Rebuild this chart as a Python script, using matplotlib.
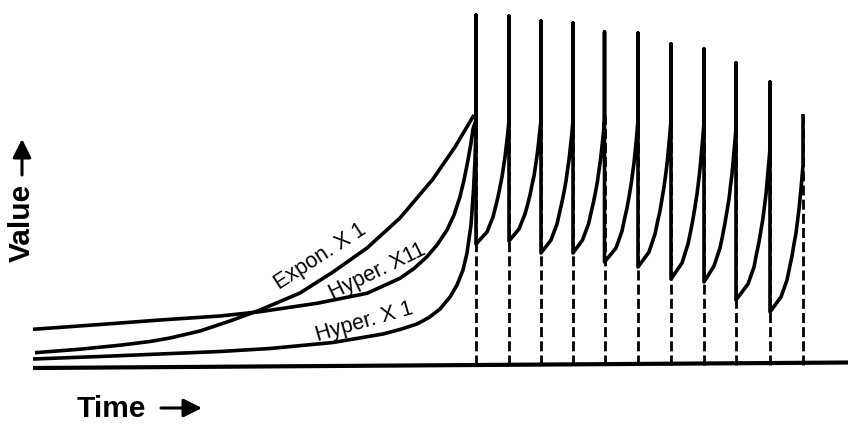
import matplotlib
matplotlib.use("Agg")
import matplotlib.pyplot as plt

plt.rcParams['font.family'] = ['Liberation Sans', 'DejaVu Sans']

# times of the 11 rewards (dashed lines)
reward_t = [476, 509, 541, 573, 604.5, 638, 671, 704, 736, 770, 803]
# height of the spike at each reward
spike_top = [350, 349, 344, 342, 333, 332, 321, 316, 302, 283, 251]
# value right after each reward, then the rise towards the next one
# (time before the next reward for each point after the trough)
rise_lead = [22, 16, 13.5, 11, 9, 7, 5.5, 4, 3, 2, 1.3, 0.7, 0]
seg_values = [
    [121, 133, 148, 158, 168, 178, 188, 198, 208, 217, 225, 231, 238, 245],
    [124, 136, 151, 160, 170, 180, 189, 199, 209, 217, 226, 232, 238, 245],
    [112, 125, 141, 152, 163, 173, 184, 195, 205, 214, 224, 230, 237, 245],
    [112, 125, 141, 152, 163, 173, 184, 195, 205, 214, 224, 230, 237, 245],
    [103, 117, 134, 146, 157, 168, 180, 191, 202, 212, 222, 229, 237, 245],
    [98, 113, 131, 143, 154, 166, 178, 189, 201, 211, 222, 229, 236, 245],
    [86, 102, 121, 133, 146, 158, 171, 183, 196, 207, 218, 226, 234, 243],
    [83, 99, 117, 129, 142, 154, 166, 179, 191, 202, 212, 220, 228, 237],
    [65, 81, 98, 111, 123, 135, 147, 159, 171, 182, 193, 200, 208, 217],
    [53, 68, 85, 97, 109, 121, 132, 144, 156, 166, 177, 184, 191, 200],
]
dash_top = 248

# curves before the first reward
expon_t = [35, 80, 120, 150, 170, 200, 230, 260, 300, 333, 367, 400, 433, 455, 474]
expon_v = [12.3, 15.8, 19.8, 23.5, 27, 34, 44, 55, 72, 93, 117, 147, 186, 218, 250]

x11_t = [33, 100, 160, 220, 260, 317, 367, 400, 414, 427, 437, 447, 454, 460,
         464, 468, 471, 473, 476]
x11_v = [35.7, 40.5, 45, 49, 53.3, 61.7, 71.7, 86.7, 96.5, 108.3, 120, 135, 150,
         168.3, 185, 205, 222, 236, 245]

x1_t = [33, 100, 160, 220, 270, 333, 383, 400, 417, 429, 440, 450, 457, 463, 467,
        471, 473.5, 475, 476]
x1_v = [6, 8.5, 11, 13.5, 16.5, 22.5, 31, 35.5, 41, 47.5, 56, 68, 80, 95, 112,
        140, 175, 205, 240]

baseline_t = [33, 848]
baseline_v = [-3, 2.5]

labels = ["Expon. X 1", "Hyper. X11", "Hyper. X 1"]
label_t = [320, 377, 364]
label_v = [108, 93, 43]
label_rot = [33, 26, 16]


def main():
    fig = plt.figure(figsize=(8.48, 4.24), dpi=100)
    ax = fig.add_axes([0, 0, 1, 1])
    ax.set_xlim(0, 848)
    ax.set_ylim(-59, 365)
    ax.axis('off')

    # dashed reward markers
    for t in reward_t:
        ax.plot([t, t], [0, dash_top], color='black', lw=2.0,
                linestyle=(0, (3.6, 1.5)), solid_capstyle='butt')

    ax.plot(baseline_t, baseline_v, color='black', lw=3.0, solid_capstyle='butt')

    # summed hyperbolic curve with the sawtooth after the rewards
    hx = list(x11_t)
    hv = list(x11_v)
    for i, t in enumerate(reward_t):
        hx.append(t)
        hv.append(spike_top[i])
        if i < len(seg_values):
            nxt = reward_t[i + 1]
            hx.append(t)
            hv.append(seg_values[i][0])
            for lead, v in zip(rise_lead, seg_values[i][1:]):
                hx.append(nxt - lead)
                hv.append(v)
    ax.plot(hx, hv, color='black', lw=2.6, solid_joinstyle='round',
            solid_capstyle='butt')

    ax.plot(expon_t, expon_v, color='black', lw=2.6, solid_capstyle='butt')
    ax.plot(x1_t + [476], x1_v + [spike_top[0]], color='black', lw=2.6,
            solid_capstyle='butt')

    for txt, t, v, r in zip(labels, label_t, label_v, label_rot):
        ax.text(t, v, txt, rotation=r, rotation_mode='anchor', ha='center',
                va='center', fontsize=15.5)

    # axis captions with arrows
    ax.text(77, -44, "Time", fontsize=21.5, fontweight='bold', ha='left', va='center')
    ax.annotate("", xy=(202, -43), xytext=(161, -43),
                arrowprops=dict(arrowstyle='-|>,head_length=0.7,head_width=0.35',
                                lw=2.2, color='black', mutation_scale=16,
                                shrinkA=0, shrinkB=0))
    ax.text(22, 142, "Value", fontsize=21.5, fontweight='bold', rotation=90,
            ha='center', va='center')
    ax.annotate("", xy=(22, 226), xytext=(22, 190),
                arrowprops=dict(arrowstyle='-|>,head_length=0.7,head_width=0.35',
                                lw=2.2, color='black', mutation_scale=16,
                                shrinkA=0, shrinkB=0))

    fig.savefig('out.png', dpi=100)


if __name__ == "__main__":
    main()
